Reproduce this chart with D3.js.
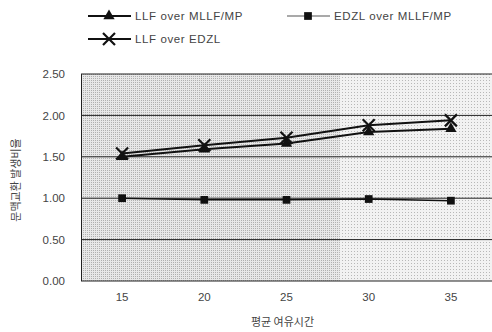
<!DOCTYPE html>
<html>
<head>
<meta charset="utf-8">
<script src="https://cdn.jsdelivr.net/npm/d3@7"></script>
<style>
  body { margin: 0; background: #fff; }
  text { font-family: "Liberation Sans", Arial, sans-serif; fill: #444; }
</style>
</head>
<body>
<svg id="chart" width="492" height="332"></svg>
<script>
// data
var slack = [15, 20, 25, 30, 35];
var llfOverMllf = [1.50, 1.59, 1.66, 1.80, 1.84];
var edzlOverMllf = [1.00, 0.98, 0.98, 0.99, 0.97];
var llfOverEdzl = [1.54, 1.64, 1.73, 1.88, 1.94];
var yTicks = [0, 0.5, 1.0, 1.5, 2.0, 2.5];

var svg = d3.select("#chart");
var margin = {left: 81, right: 0, top: 74, bottom: 51};
var width = 492 - margin.left - margin.right,
    height = 332 - margin.top - margin.bottom;

// stippled gray background like the scanned chart
var defs = svg.append("defs");
var p1 = defs.append("pattern").attr("id", "dots").attr("width", 2).attr("height", 2)
  .attr("patternUnits", "userSpaceOnUse");
p1.append("rect").attr("width", 2).attr("height", 2).attr("fill", "#e8e8e8");
p1.append("rect").attr("width", 1).attr("height", 1).attr("fill", "#b0b0b0");
var p2 = defs.append("pattern").attr("id", "dots2").attr("width", 3).attr("height", 3)
  .attr("patternUnits", "userSpaceOnUse");
p2.append("rect").attr("width", 3).attr("height", 3).attr("fill", "#f2f2f2");
p2.append("rect").attr("width", 1).attr("height", 1).attr("fill", "#b8b8b8");

var x = d3.scaleBand().domain(slack).range([0, width]);
var y = d3.scaleLinear().domain([0, 2.5]).range([height, 0]);

var g = svg.append("g").attr("transform", "translate(" + margin.left + "," + margin.top + ")");

g.append("rect").attr("width", width * 0.63).attr("height", height).attr("fill", "url(#dots)");
g.append("rect").attr("x", width * 0.63).attr("width", width * 0.37).attr("height", height).attr("fill", "url(#dots2)");

// grid lines
g.selectAll(".grid").data(yTicks).enter().append("line")
  .attr("x1", 0).attr("x2", width)
  .attr("y1", function(d) { return y(d); })
  .attr("y2", function(d) { return y(d); })
  .attr("stroke", "#222").attr("stroke-width", 1);

g.append("line").attr("x1", 0.5).attr("x2", 0.5).attr("y1", 0).attr("y2", height)
  .attr("stroke", "#222");

// axes labels
var yAxis = d3.axisLeft(y).tickValues(yTicks).tickSize(0).tickPadding(16)
  .tickFormat(d3.format(".2f"));
var ya = g.append("g").call(yAxis);
ya.select(".domain").remove();
ya.selectAll("text").style("font-size", "11.5px").attr("fill", "#444");

var xAxis = d3.axisBottom(x).tickSize(0).tickPadding(12);
var xa = g.append("g").attr("transform", "translate(0," + height + ")").call(xAxis);
xa.select(".domain").remove();
xa.selectAll("text").style("font-size", "11.5px").attr("fill", "#444");

svg.append("text").attr("x", margin.left + width / 2 - 4).attr("y", 326)
  .attr("text-anchor", "middle").style("font-size", "11px")
  .style("font-family", "'Noto Sans CJK KR', sans-serif")
  .text("평균 여유시간");

svg.append("text").attr("transform", "translate(20,180) rotate(-90)")
  .attr("text-anchor", "middle").style("font-size", "11px")
  .style("font-family", "'Noto Sans CJK KR', sans-serif")
  .text("문맥교환 발생비율");

// series
var line = d3.line()
  .x(function(d, i) { return x(slack[i]) + x.bandwidth() / 2; })
  .y(function(d) { return y(d); });

var series = [
  {name: "LLF over MLLF/MP", values: llfOverMllf, sym: d3.symbolTriangle, size: 55, width: 2},
  {name: "EDZL over MLLF/MP", values: edzlOverMllf, sym: d3.symbolSquare, size: 60, width: 1.5},
  {name: "LLF over EDZL", values: llfOverEdzl, sym: d3.symbolCross, size: 110, width: 2}
];

function marker(sel, s) {
  if (s.sym === d3.symbolCross) {
    sel.append("path").attr("d", "M-6,-6L6,6M-6,6L6,-6")
      .attr("stroke", "#111").attr("stroke-width", 2.2).attr("fill", "none");
  } else {
    sel.append("path").attr("d", d3.symbol().type(s.sym).size(s.size)())
      .attr("fill", "#111");
  }
}

series.forEach(function(s) {
  g.append("path").datum(s.values).attr("d", line)
    .attr("fill", "none").attr("stroke", "#111").attr("stroke-width", s.width);
  s.values.forEach(function(v, i) {
    var m = g.append("g").attr("transform", "translate(" + (x(slack[i]) + x.bandwidth() / 2) + "," + y(v) + ")");
    marker(m, s);
  });
});

// legend
var legendPos = [[88, 16], [287, 16], [88, 39]];
series.forEach(function(s, i) {
  var lg = svg.append("g").attr("transform", "translate(" + legendPos[i][0] + "," + legendPos[i][1] + ")");
  lg.append("line").attr("x1", 0).attr("x2", 43).attr("stroke", i === 1 ? "#555" : "#111")
    .attr("stroke-width", i === 1 ? 1.2 : s.width);
  var m = lg.append("g").attr("transform", "translate(21,0)");
  marker(m, s);
  lg.append("text").attr("x", 47).attr("y", 4).style("font-size", "11.5px")
    .style("letter-spacing", "0.6px").text(s.name);
});
</script>
</body>
</html>
